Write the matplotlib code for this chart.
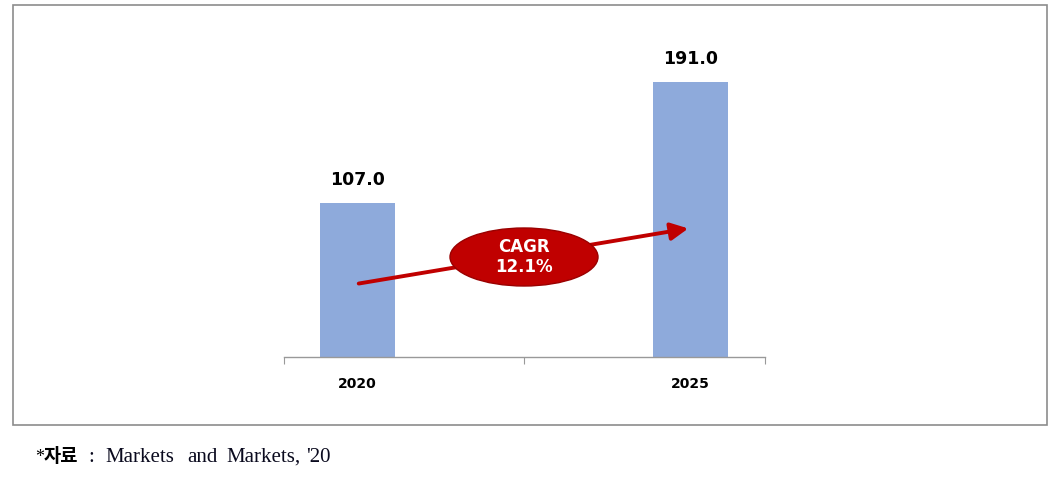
import matplotlib
matplotlib.use("Agg")
import matplotlib.pyplot as plt
from matplotlib.patches import Rectangle, Ellipse, FancyArrowPatch

categories = ["2020", "2025"]
values = [107.0, 191.0]
cagr_label = "CAGR\n12.1%"
source_star = "*"
source_prefix = "자료"
source_words = [":", "Markets", "and", "Markets,", "'20"]
source_word_px = [88, 105, 187, 226, 306]

W, H = 1056, 479
fig = plt.figure(figsize=(W / 100, H / 100), dpi=100)

# outer frame
fig.patches.append(Rectangle((13 / W, 1 - 425 / H), (1047 - 13) / W, (425 - 5) / H,
                             transform=fig.transFigure, fill=False,
                             edgecolor="#8c8c8c", linewidth=1.2))

# axes in pixel placement
left, right, bottom = 284, 765, 357
ymax = 220.0
px_per_unit = (357 - 82) / 191.0
top = bottom - ymax * px_per_unit
ax = fig.add_axes([left / W, 1 - bottom / H, (right - left) / W, (bottom - top) / H])

xs = [0, 1]
ax.bar(xs, values, width=0.225, color="#8eaadb", zorder=2)
ax.set_xlim(-0.2207, 1.2237)
ax.set_ylim(0, ymax)

for x, v in zip(xs, values):
    ax.text(x, v + 10, f"{v:.1f}", ha="center", va="bottom",
            fontsize=12.5, fontweight="bold", color="#000000")

for s in ["top", "left", "right"]:
    ax.spines[s].set_visible(False)
ax.spines["bottom"].set_color("#999999")
ax.spines["bottom"].set_linewidth(1.0)
ax.set_yticks([])
ax.set_xticks([-0.2207, 0.5, 1.2237])
ax.set_xticklabels([])
ax.tick_params(axis="x", length=5, color="#999999", direction="out")
for x, c in zip(xs, categories):
    ax.text(x, -14, c, ha="center", va="top", fontsize=10, fontweight="bold",
            color="#000000", transform=ax.transData, clip_on=False)

# CAGR arrow and ellipse (in data coordinates)
def px2data(px, py):
    return ((px - 357.5) / 333.0, (bottom - py) / px_per_unit)

x0, y0 = px2data(356, 284)
x1, y1 = px2data(691, 228)
arrow = FancyArrowPatch((x0, y0), (x1, y1), arrowstyle="-|>,head_length=7,head_width=3.5",
                        color="#c00000", linewidth=2.8, zorder=3, mutation_scale=1.5)
ax.add_patch(arrow)
cx, cy = px2data(524, 257)
ell = Ellipse((cx, cy), 148 / 333.0, 58 / px_per_unit, facecolor="#c00000",
              edgecolor="#9a0000", linewidth=1, zorder=4)
ax.add_patch(ell)
ax.text(cx, cy, cagr_label, ha="center", va="center", fontsize=12,
        fontweight="bold", color="white", zorder=5, linespacing=1.1)

# source footnote
ty = 1 - 462 / H
fig.text(35 / W, ty, source_star, ha="left", va="baseline",
         fontsize=13, family=["Liberation Serif"], color="#000000")
fig.text(44 / W, ty, source_prefix, ha="left", va="baseline",
         fontsize=13.5, fontweight="bold", family=["Noto Sans CJK KR", "DejaVu Sans"],
         color="#000000")
for word, px in zip(source_words, source_word_px):
    fig.text(px / W, ty, word, ha="left", va="baseline",
             fontsize=15, family=["Liberation Serif", "Noto Sans CJK KR"],
             color="#0a0a1e")

fig.savefig("out.png", dpi=100)
